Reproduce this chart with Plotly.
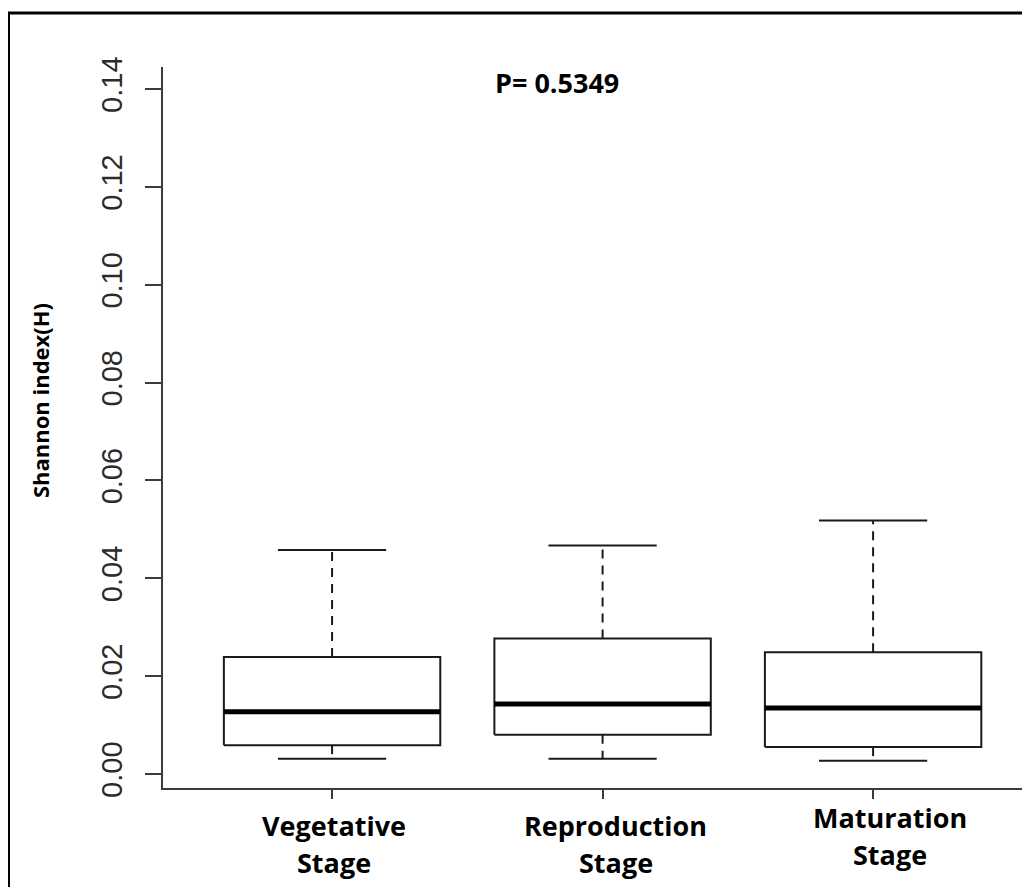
import plotly.graph_objects as go

# ---------------- data ----------------
categories = ["Vegetative Stage", "Reproduction Stage", "Maturation Stage"]
lower_whisker = [0.0031, 0.0031, 0.0027]
q1 = [0.0059, 0.0080, 0.0055]
median = [0.0127, 0.0143, 0.0135]
q3 = [0.0239, 0.0277, 0.0249]
upper_whisker = [0.0458, 0.0467, 0.0518]
y_ticks = [0.00, 0.02, 0.04, 0.06, 0.08, 0.10, 0.12, 0.14]
y_tick_labels = ["0.00", "0.02", "0.04", "0.06", "0.08", "0.10", "0.12", "0.14"]
p_label = "P= 0.5349"
y_title = "Shannon index(H)"

# ---------------- style ----------------
BOX_HALF = 0.4
CAP_HALF = 0.2
LINE_COL = "#1a1a1a"
AXIS_COL = "#3c3c3c"
label_xshift = [2, 13, 17]
label_yshift = [0, 0, 8]

fig = go.Figure()
pos = list(range(1, len(categories) + 1))

bx, by, mx, my, wx, wy, cx, cy = [], [], [], [], [], [], [], []
for i, xc in enumerate(pos):
    bx += [xc - BOX_HALF, xc + BOX_HALF, xc + BOX_HALF, xc - BOX_HALF, xc - BOX_HALF, None]
    by += [q1[i], q1[i], q3[i], q3[i], q1[i], None]
    mx += [xc - BOX_HALF, xc + BOX_HALF, None]
    my += [median[i], median[i], None]
    wx += [xc, xc, None, xc, xc, None]
    wy += [q3[i], upper_whisker[i], None, q1[i], lower_whisker[i], None]
    cx += [xc - CAP_HALF, xc + CAP_HALF, None, xc - CAP_HALF, xc + CAP_HALF, None]
    cy += [upper_whisker[i], upper_whisker[i], None, lower_whisker[i], lower_whisker[i], None]

fig.add_trace(go.Scatter(x=wx, y=wy, mode="lines", line=dict(color=LINE_COL, width=2, dash="9px,7px"),
                         hoverinfo="skip", showlegend=False))
fig.add_trace(go.Scatter(x=cx, y=cy, mode="lines", line=dict(color=LINE_COL, width=2),
                         hoverinfo="skip", showlegend=False))
fig.add_trace(go.Scatter(x=bx, y=by, mode="lines", fill="toself", fillcolor="white",
                         line=dict(color=LINE_COL, width=2), hoverinfo="skip", showlegend=False))
fig.add_trace(go.Scatter(x=mx, y=my, mode="lines", line=dict(color="black", width=5),
                         hoverinfo="skip", showlegend=False))

# x category labels (two lines each)
for i, cat in enumerate(categories):
    words = cat.split(" ")
    for j, w in enumerate(words):
        fig.add_annotation(x=pos[i], xref="x", y=-0.052 - j * 0.051, yref="paper",
                           text="<b>%s</b>" % w, showarrow=False,
                           xanchor="center", yanchor="middle",
                           xshift=label_xshift[i], yshift=label_yshift[i],
                           font=dict(family="Open Sans", size=27, color="black"))

fig.add_annotation(x=0.4544, y=0.979, xref="paper", yref="paper", text="<b>%s</b>" % p_label,
                   showarrow=False, xanchor="center", yanchor="middle",
                   font=dict(family="Open Sans", size=27, color="black"))
fig.add_annotation(x=-0.1419, y=0.538, xref="paper", yref="paper", text="<b>%s</b>" % y_title,
                   showarrow=False, textangle=-90, xanchor="center", yanchor="middle",
                   font=dict(family="Open Sans", size=22, color="black"))

# outer frame
fig.add_shape(type="rect", xref="paper", yref="paper", x0=-0.1782, x1=1.05, y0=-0.16, y1=1.0749,
              line=dict(color="black", width=3), fillcolor="rgba(0,0,0,0)", layer="above")

fig.update_layout(
    width=1022, height=879, autosize=False,
    margin=dict(l=155, r=0, t=59, b=99, pad=0),
    plot_bgcolor="white", paper_bgcolor="white",
    showlegend=False,
)
fig.update_xaxes(range=[0.375, 3.58], showgrid=False, zeroline=False, showline=True,
                 linecolor=AXIS_COL, linewidth=2, tickmode="array", tickvals=pos,
                 ticktext=["" for _ in pos], ticks="outside", ticklen=9, tickwidth=2,
                 tickcolor=AXIS_COL)
fig.update_yaxes(range=[-0.00286, 0.1445], showgrid=False, zeroline=False, showline=True,
                 linecolor=AXIS_COL, linewidth=2, tickmode="array", tickvals=y_ticks,
                 ticktext=y_tick_labels, ticks="outside", ticklen=16, tickwidth=2,
                 tickcolor=AXIS_COL, tickangle=-90, ticklabelstandoff=11,
                 tickfont=dict(family="Liberation Sans", size=29, color="#2b2b2b"))

fig.write_html("out.html")
